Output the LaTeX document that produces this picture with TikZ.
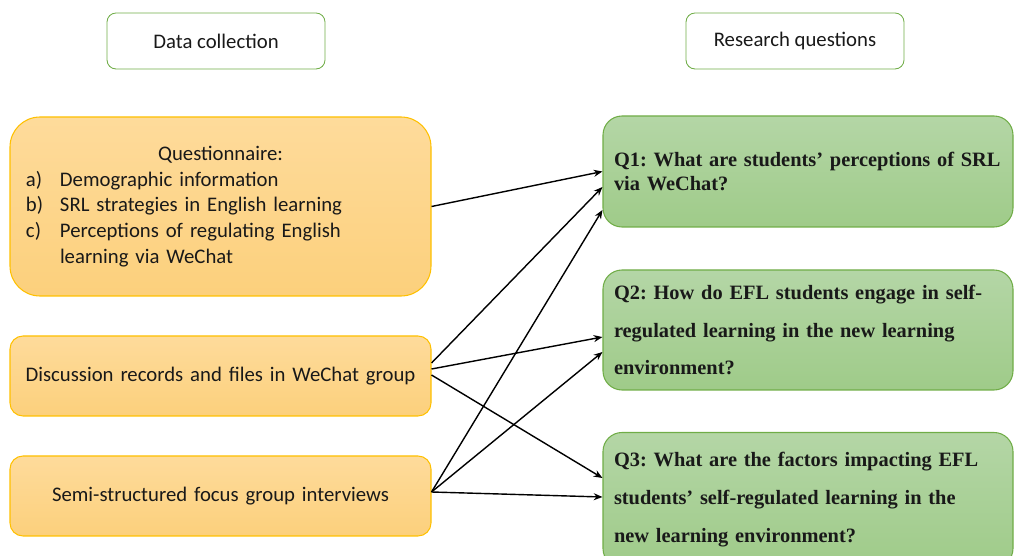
\documentclass[tikz,border=0pt]{standalone}
\usepackage{fontspec}
\setmainfont{Carlito}
\newfontfamily\qfont{Liberation Serif}
\usetikzlibrary{arrows.meta}
\usepackage{xcolor}
\definecolor{gold}{HTML}{FFC000}
\definecolor{goldtop}{HTML}{FEDB9B}
\definecolor{goldbot}{HTML}{FCD07C}
\definecolor{leaf}{HTML}{70AD47}
\definecolor{leaftop}{HTML}{B4D6A6}
\definecolor{leafbot}{HTML}{9FCB89}
\setlength{\parindent}{0pt}
\frenchspacing

\begin{document}
\begin{tikzpicture}[
  every node/.style={font=\fontsize{11.8}{14.6}\selectfont, text=black!90},
  header/.style={draw=leaf, fill=white, line width=0.5pt, rounded corners=0.18cm,
    minimum width=4.36cm, minimum height=1.12cm},
  source/.style={draw=gold, top color=goldtop, bottom color=goldbot, line width=0.6pt,
    minimum width=8.42cm, inner sep=0.2cm, text width=8.02cm, align=center},
  question/.style={draw=leaf, top color=leaftop, bottom color=leafbot, line width=0.6pt,
    rounded corners=0.38cm, minimum width=8.2cm, inner sep=0.22cm, text width=7.76cm, align=left},
  qtext/.style={font=\qfont\bfseries\fontsize{11.6}{#1}\selectfont},
  link/.style={-{Stealth[length=5pt,width=4pt]}, line width=0.8pt}
]
  % Frame
  \useasboundingbox (0,0) rectangle (20.28,-11.12);

  % Column headings
  \node[header] (hdc) at (4.32,-0.82) {Data collection};
  \node[header] (hrq) at (15.90,-0.82) {Research questions};

  % Data sources
  \node[source, align=left, rounded corners=0.6cm, minimum height=3.58cm] (qn) at (4.41,-4.13)
    {{\centering Questionnaire:\par}
     \hspace*{0.12cm}\makebox[0.68cm][l]{a)}Demographic information\par
     \hspace*{0.12cm}\makebox[0.68cm][l]{b)}SRL strategies in English learning\par
     \hspace*{0.12cm}\makebox[0.68cm][l]{c)}Perceptions of regulating English\par
     \hspace*{0.8cm}learning via WeChat};
  \node[source, rounded corners=0.26cm, minimum height=1.6cm] (dr) at (4.41,-7.52)
    {Discussion records and files in WeChat group};
  \node[source, rounded corners=0.26cm, minimum height=1.6cm] (sf) at (4.41,-9.92)
    {Semi-structured focus group interviews};

  % Research questions
  \node[question, qtext=13.4, minimum height=2.22cm] (q1) at (16.16,-3.43)
    {\mbox{Q1: What are students’ perceptions of SRL}\\ via WeChat?};
  \node[question, qtext=21.6, minimum height=2.4cm] (q2) at (16.16,-6.60)
    {Q2: How do EFL students engage in self-\\ regulated learning in the new learning\\ environment?};
  \node[question, qtext=21.6, minimum height=2.7cm] (q3) at (16.16,-10.0)
    {Q3: What are the factors impacting EFL\\ students’ self-regulated learning in the\\ new learning environment?};

  % Links
  \draw[link] (qn.east) -- (q1.west);
  \draw[link] ([yshift=0.26cm]dr.east) -- ([yshift=-0.31cm]q1.west);
  \draw[link] ([yshift=0.14cm]dr.east) -- ([yshift=-0.14cm]q2.west);
  \draw[link] ([yshift=0.02cm]dr.east) -- ([yshift=0.44cm]q3.west);
  \draw[link] ([yshift=0.08cm]sf.east) -- ([yshift=-0.77cm]q1.west);
  \draw[link] ([yshift=0.08cm]sf.east) -- ([yshift=-0.44cm]q2.west);
  \draw[link] ([yshift=0.08cm]sf.east) -- ([yshift=0.06cm]q3.west);
\end{tikzpicture}
\end{document}
